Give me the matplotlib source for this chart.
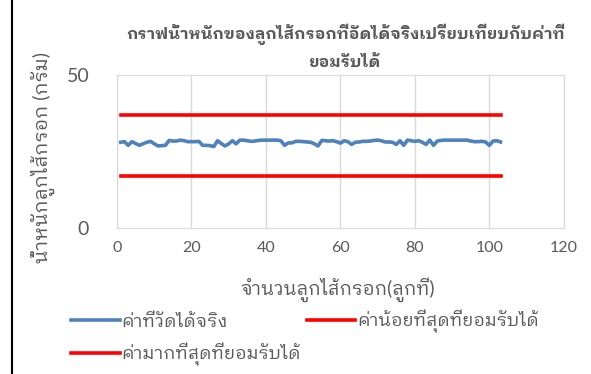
import matplotlib
matplotlib.use("Agg")
import matplotlib.pyplot as plt
from matplotlib.lines import Line2D
import numpy as np

plt.rcParams["font.family"] = ["Lato", "IBM Plex Sans Thai Looped", "DejaVu Sans"]

# weight of each sausage (g), pieces 1..103
piece_no = np.arange(1, 104)
weight = [
    28.0, 28.2, 27.0, 28.2, 27.6, 27.0, 27.5, 28.0, 28.3, 27.5,
    26.8, 26.9, 27.0, 28.6, 28.4, 28.4, 28.7, 28.5, 28.2, 28.2,
    28.2, 28.3, 27.0, 27.0, 26.9, 26.6, 28.5, 27.6, 26.8, 27.5,
    28.5, 27.5, 28.7, 28.7, 28.5, 28.3, 28.4, 28.6, 28.7, 28.7,
    28.7, 28.7, 28.7, 28.5, 27.0, 27.8, 27.8, 28.3, 28.3, 28.2,
    28.1, 28.0, 27.5, 26.8, 28.6, 28.5, 28.4, 28.5, 28.2, 27.7,
    28.5, 28.2, 27.3, 28.0, 28.1, 28.3, 28.3, 28.4, 28.6, 28.7,
    28.5, 28.1, 28.1, 28.0, 27.3, 28.5, 27.0, 28.7, 28.5, 28.3,
    28.5, 28.0, 27.3, 28.7, 27.0, 28.4, 28.6, 28.7, 28.7, 28.7,
    28.7, 28.7, 28.7, 28.7, 28.4, 28.2, 28.2, 28.3, 28.1, 27.0,
    28.4, 28.5, 28.1,
]
min_ok = [17] * len(piece_no)
max_ok = [37] * len(piece_no)

title = "กราฟน้ำหนักของลูกไส้กรอกที่อัดได้จริงเปรียบเทียบกับค่าที่\nยอมรับได้"
x_label = "จำนวนลูกไส้กรอก(ลูกที่)"
y_label = "น้ำหนักลูกไส้กรอก (กรัม)"
series_names = ["ค่าที่วัดได้จริง", "ค่าน้อยที่สุดที่ยอมรับได้", "ค่ามากที่สุดที่ยอมรับได้"]

fig = plt.figure(figsize=(5.91, 3.74), dpi=100)
ax = fig.add_axes([0.198, 0.390, 0.756, 0.410])

h_real, = ax.plot(piece_no, weight, color="#4F81BD", lw=2.6, label=series_names[0])
h_min, = ax.plot(piece_no, min_ok, color="#FF0000", lw=2.6, label=series_names[1])
h_max, = ax.plot(piece_no, max_ok, color="#FF0000", lw=2.6, label=series_names[2])

ax.set_xlim(0, 120)
ax.set_ylim(0, 50)
ax.set_xticks(range(0, 121, 20))
ax.set_yticks([0, 50])
ax.grid(axis="x", color="#d9d9d9", lw=1)
ax.set_axisbelow(True)
for s in ax.spines.values():
    s.set_color("#d9d9d9")
ax.tick_params(length=0, colors="#595959")
ax.tick_params(axis="y", labelsize=14, pad=20)
ax.tick_params(axis="x", labelsize=11.5, pad=9)

fig.text(0.584, 0.875, title, ha="center", va="center", fontsize=11.8,
         fontweight="bold", color="#595959", linespacing=1.9)
fig.text(0.572, 0.225, x_label, ha="center", va="center", fontsize=13.5, color="#595959")
fig.text(0.072, 0.578, y_label, ha="center", va="center", rotation=90,
         fontsize=14, color="#595959")

# legend fills column-wise: real + max in first column, min in second
fig.legend([h_real, h_max, h_min], [series_names[0], series_names[2], series_names[1]],
           loc="upper left", bbox_to_anchor=(0.108, 0.19), ncol=2, frameon=False,
           fontsize=13, handlelength=2.7, handletextpad=0.1, columnspacing=0.3,
           labelspacing=0.75, borderaxespad=0, labelcolor="#595959")

# left border rule
fig.add_artist(Line2D([0.021, 0.021], [0, 1], transform=fig.transFigure,
                      color="black", lw=1.5))

fig.savefig("out.png")
